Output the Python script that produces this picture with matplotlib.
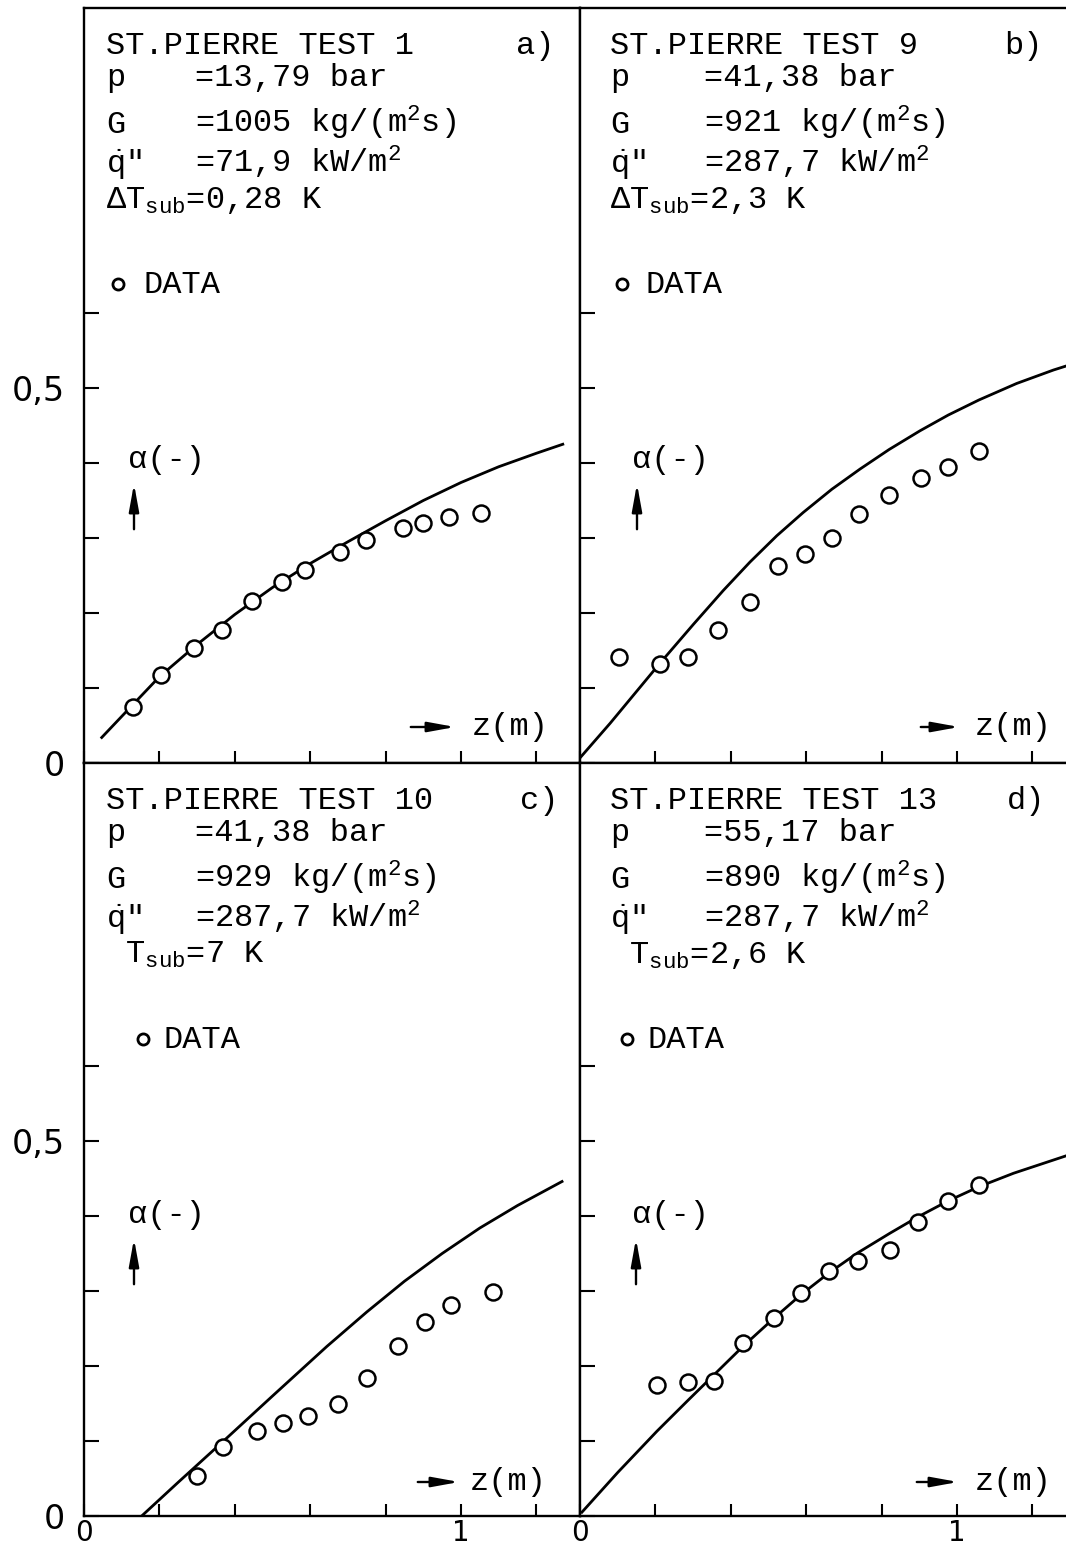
import matplotlib.pyplot as plt
import numpy as np

plt.rcParams['mathtext.fontset'] = 'custom'
plt.rcParams['mathtext.rm'] = 'Liberation Mono'
plt.rcParams['mathtext.it'] = 'Liberation Mono'
plt.rcParams['mathtext.bf'] = 'Liberation Mono'

MONO = 'Liberation Mono'
SANS = 'DejaVu Sans'

# a) ST.PIERRE TEST 1 : measured void fraction and calculated curve
z_a = [0.131, 0.204, 0.293, 0.365, 0.445, 0.526, 0.586, 0.679, 0.748, 0.847, 0.898, 0.969, 1.053]
alpha_a = [0.075, 0.117, 0.154, 0.178, 0.216, 0.241, 0.257, 0.282, 0.298, 0.314, 0.320, 0.328, 0.334]
zc_a = [0.047, 0.13, 0.20, 0.30, 0.40, 0.50, 0.60, 0.70, 0.80, 0.90, 1.00, 1.10, 1.20, 1.27]
ac_a = [0.034, 0.078, 0.115, 0.158, 0.198, 0.234, 0.266, 0.295, 0.323, 0.350, 0.374, 0.395, 0.413, 0.425]

# b) ST.PIERRE TEST 9
z_b = [0.104, 0.212, 0.286, 0.367, 0.451, 0.524, 0.597, 0.668, 0.740, 0.820, 0.904, 0.977, 1.058]
alpha_b = [0.141, 0.132, 0.141, 0.178, 0.215, 0.263, 0.279, 0.300, 0.332, 0.357, 0.380, 0.394, 0.416]
zc_b = [0.002, 0.080, 0.212, 0.301, 0.380, 0.451, 0.522, 0.592, 0.668, 0.743, 0.820,
        0.902, 0.977, 1.058, 1.158, 1.256, 1.30]
ac_b = [0.008, 0.053, 0.133, 0.185, 0.230, 0.268, 0.303, 0.334, 0.365, 0.392, 0.418,
        0.443, 0.464, 0.484, 0.506, 0.524, 0.531]

# c) ST.PIERRE TEST 10
z_c = [0.299, 0.368, 0.460, 0.527, 0.595, 0.675, 0.751, 0.833, 0.905, 0.973, 1.085]
alpha_c = [0.054, 0.092, 0.113, 0.124, 0.133, 0.150, 0.184, 0.227, 0.259, 0.281, 0.299]
zc_c = [0.153, 0.25, 0.368, 0.50, 0.644, 0.75, 0.85, 0.95, 1.05, 1.15, 1.268]
ac_c = [0.0, 0.045, 0.099, 0.160, 0.226, 0.272, 0.313, 0.350, 0.384, 0.414, 0.446]

# d) ST.PIERRE TEST 13
z_d = [0.204, 0.286, 0.355, 0.432, 0.515, 0.586, 0.660, 0.737, 0.822, 0.897, 0.976, 1.058]
alpha_d = [0.175, 0.179, 0.180, 0.231, 0.264, 0.297, 0.327, 0.340, 0.355, 0.392, 0.420, 0.441]
zc_d = [0.005, 0.10, 0.204, 0.286, 0.355, 0.432, 0.515, 0.586, 0.660, 0.737, 0.822,
        0.897, 0.976, 1.058, 1.15, 1.30]
ac_d = [0.005, 0.058, 0.113, 0.154, 0.188, 0.226, 0.264, 0.295, 0.324, 0.351, 0.377,
        0.399, 0.420, 0.439, 0.457, 0.482]

titles = ['ST.PIERRE TEST 1', 'ST.PIERRE TEST 9', 'ST.PIERRE TEST 10', 'ST.PIERRE TEST 13']
tags = ['a)', 'b)', 'c)', 'd)']
p_vals = ['=13,79 bar', '=41,38 bar', '=41,38 bar', '=55,17 bar']
G_vals = ['=1005 kg/(m$^2$s)', '=921 kg/(m$^2$s)', '=929 kg/(m$^2$s)', '=890 kg/(m$^2$s)']
q_vals = ['=71,9 kW/m$^2$', '=287,7 kW/m$^2$', '=287,7 kW/m$^2$', '=287,7 kW/m$^2$']
dT_rows = [r'ΔT$_{\mathrm{sub}}$=0,28 K', r'ΔT$_{\mathrm{sub}}$=2,3 K',
           r' T$_{\mathrm{sub}}$=7 K', r' T$_{\mathrm{sub}}$=2,6 K']

yticks = [0, 0.1, 0.2, 0.3, 0.4, 0.5, 0.6]
ylabels = ['0', '', '', '', '', '0,5', '']
xticks = [0, 0.2, 0.4, 0.6, 0.8, 1.0, 1.2]
xlabels = ['0', '', '', '', '', '1', '']

W, H = 1066, 1545
PX_X, PX_Y = 377.0, 750.0      # pixels per unit z and per unit alpha
fig = plt.figure(figsize=(W / 100, H / 100), dpi=100)


def fx(x):
    return x / W


def fy(y):
    return 1 - y / H


# left, top, width, height in pixels
boxes = [(84, 8, 496, 755), (580, 8, 496, 755), (84, 763, 496, 753), (580, 763, 496, 753)]
meas = [(z_a, alpha_a), (z_b, alpha_b), (z_c, alpha_c), (z_d, alpha_d)]
calc = [(zc_a, ac_a), (zc_b, ac_b), (zc_c, ac_c), (zc_d, ac_d)]

col_x = [106, 610, 106, 610]
eq_x = [195, 704, 195, 704]
tag_x = [555, 1043, 559, 1045]
leg_o = [118, 622, 143, 627]
leg_t = [143, 645, 163, 648]
alab_x = [128, 632, 128, 632]
arr_x = [134, 637, 134, 636]
zarr = [(408, 458), (918, 962), (415, 462), (914, 961)]
zlab_x = [472, 975, 470, 975]

arrow_kw = dict(arrowstyle='-|>,head_length=1.1,head_width=0.2',
                lw=1.7, color='black', mutation_scale=15)

for i, (l, t, w, h) in enumerate(boxes):
    ax = fig.add_axes([fx(l), fy(t + h), w / W, h / H])
    ax.set_xlim(0, w / PX_X)
    ax.set_ylim(0, h / PX_Y)
    for s in ax.spines.values():
        s.set_linewidth(1.7)

    zc, ac = calc[i]
    ax.plot(zc, ac, '-', color='black', lw=2.0, zorder=2)
    zm, am = meas[i]
    ax.plot(zm, am, 'o', ms=11.5, mfc='white', mec='black', mew=1.8, zorder=3, clip_on=False)

    left_col = i in (0, 2)
    bottom_row = i in (2, 3)
    ax.set_yticks(yticks, labels=ylabels if left_col else [''] * len(yticks))
    ax.set_xticks(xticks, labels=xlabels if bottom_row else [''] * len(xticks))
    ax.tick_params(axis='y', direction='in', length=11, width=1.5, pad=14,
                   labelsize=24, labelfontfamily=SANS)
    ax.tick_params(axis='x', direction='in', length=9, width=1.5, pad=2,
                   labelsize=20, labelfontfamily=SANS)

    # header block
    tk = dict(fontsize=23, family=MONO, va='baseline')
    fig.text(fx(col_x[i]), fy(t + 46), titles[i], **tk)
    fig.text(fx(tag_x[i]), fy(t + 46), tags[i], ha='right', **tk)
    fig.text(fx(col_x[i]), fy(t + 78), 'p', **tk)
    fig.text(fx(eq_x[i]), fy(t + 78), p_vals[i], **tk)
    fig.text(fx(col_x[i]), fy(t + 125), 'G', **tk)
    fig.text(fx(eq_x[i]), fy(t + 125), G_vals[i], **tk)
    fig.text(fx(col_x[i]), fy(t + 165), r'$\dot{\mathrm{q}}$"', **tk)
    fig.text(fx(eq_x[i]), fy(t + 165), q_vals[i], **tk)
    fig.text(fx(col_x[i]), fy(t + 200), dT_rows[i], **tk)

    # legend entry
    fig.lines.append(plt.Line2D([fx(leg_o[i])], [fy(t + 276)], marker='o', ms=8,
                                mfc='white', mec='black', mew=2.0,
                                transform=fig.transFigure))
    fig.text(fx(leg_t[i]), fy(t + 285), 'DATA', **tk)

    # alpha(-) with upward arrow
    fig.text(fx(alab_x[i]), fy(t + 460), 'α(-)', **tk)
    ax.annotate('', xy=(fx(arr_x[i]), fy(t + 473)), xytext=(fx(arr_x[i]), fy(t + 524)),
                xycoords='figure fraction', textcoords='figure fraction',
                arrowprops=arrow_kw)

    # z(m) with arrow pointing right
    x0, x1 = zarr[i]
    ax.annotate('', xy=(fx(x1), fy(t + 719)), xytext=(fx(x0), fy(t + 719)),
                xycoords='figure fraction', textcoords='figure fraction',
                arrowprops=arrow_kw)
    fig.text(fx(zlab_x[i]), fy(t + 727), 'z(m)', **tk)

fig.savefig('out.png', dpi=100, facecolor='white')
